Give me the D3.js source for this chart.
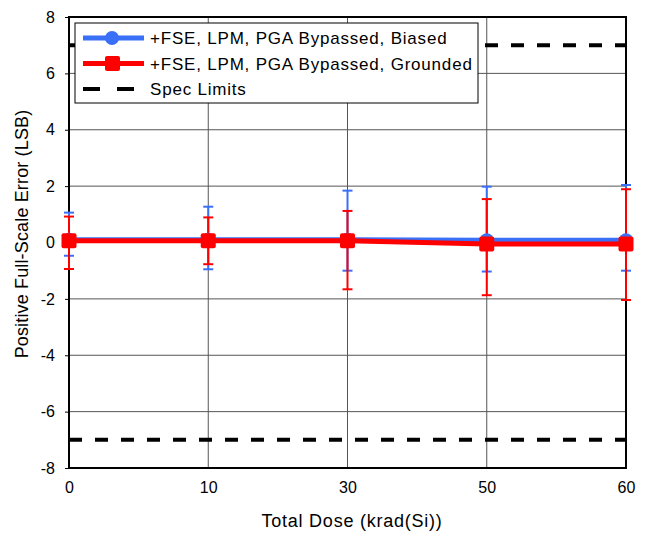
<!DOCTYPE html>
<html>
<head>
<meta charset="utf-8">
<script src="https://cdn.jsdelivr.net/npm/d3@7"></script>
<style>
  body { margin: 0; background: #fff; }
  text { font-family: "Liberation Sans", Arial, sans-serif; }
</style>
</head>
<body>
<div id="chart"></div>
<script>
// Data
const doses = ["0", "10", "30", "50", "60"];
const biasedMean = [0.1, 0.1, 0.1, 0.08, 0.08];
const biasedHigh = [1.06, 1.27, 1.84, 1.98, 2.04];
const biasedLow = [-0.47, -0.95, -1.0, -1.03, -1.0];
const groundedMean = [0.06, 0.06, 0.06, -0.05, -0.05];
const groundedHigh = [0.92, 0.89, 1.12, 1.54, 1.89];
const groundedLow = [-0.94, -0.77, -1.66, -1.87, -2.04];
const specLimits = [7, -7];
const yTicks = [-8, -6, -4, -2, 0, 2, 4, 6, 8];

const width = 652;
const height = 533;
const margin = { top: 17, right: 26, bottom: 65, left: 69 };

const svg = d3
  .select("#chart")
  .append("svg")
  .attr("width", width)
  .attr("height", height);

const x = d3
  .scalePoint()
  .domain(doses)
  .range([margin.left, width - margin.right]);

const y = d3
  .scaleLinear()
  .domain([-8, 8])
  .range([height - margin.bottom, margin.top]);

// Grid lines
svg
  .append("g")
  .selectAll("line")
  .data(yTicks)
  .enter()
  .append("line")
  .attr("x1", margin.left)
  .attr("x2", width - margin.right)
  .attr("y1", (d) => y(d))
  .attr("y2", (d) => y(d))
  .style("stroke", "#555")
  .style("stroke-width", 1);

svg
  .append("g")
  .selectAll("line")
  .data(doses)
  .enter()
  .append("line")
  .attr("x1", (d) => x(d))
  .attr("x2", (d) => x(d))
  .attr("y1", margin.top)
  .attr("y2", height - margin.bottom)
  .style("stroke", "#555")
  .style("stroke-width", 1);

// Axes (plain hyphen for negatives, like the original)
const yAxis = svg
  .append("g")
  .attr("transform", `translate(${margin.left},0)`)
  .call(
    d3.axisLeft(y)
      .tickValues(yTicks)
      .tickFormat((d) => String(d))
      .tickSize(4)
      .tickPadding(10)
  );
yAxis.select(".domain").remove();
yAxis.selectAll("text").style("font-size", "16px").style("fill", "#000");

const xAxis = svg
  .append("g")
  .attr("transform", `translate(0,${height - margin.bottom})`)
  .call(d3.axisBottom(x).tickSize(0).tickPadding(14));
xAxis.select(".domain").remove();
xAxis.selectAll("text").style("font-size", "16px").style("fill", "#000");

// Frame
svg
  .append("rect")
  .attr("x", margin.left)
  .attr("y", margin.top)
  .attr("width", width - margin.left - margin.right)
  .attr("height", height - margin.top - margin.bottom)
  .style("fill", "none")
  .style("stroke", "#000")
  .style("stroke-width", 2);

// Spec limits
svg
  .append("g")
  .selectAll("line")
  .data(specLimits)
  .enter()
  .append("line")
  .attr("x1", margin.left)
  .attr("x2", width - margin.right)
  .attr("y1", (d) => y(d))
  .attr("y2", (d) => y(d))
  .style("stroke", "#000")
  .style("stroke-width", 4)
  .style("stroke-dasharray", "13,13");

// Error bars
function drawErrors(high, low, color) {
  const g = svg.append("g");
  doses.forEach((d, i) => {
    const cx = x(d);
    g.append("line")
      .attr("x1", cx).attr("x2", cx)
      .attr("y1", y(high[i])).attr("y2", y(low[i]))
      .style("stroke", color).style("stroke-width", 2);
    [high[i], low[i]].forEach((v) => {
      g.append("line")
        .attr("x1", cx - 5).attr("x2", cx + 5)
        .attr("y1", y(v)).attr("y2", y(v))
        .style("stroke", color).style("stroke-width", 2);
    });
  });
}
drawErrors(biasedHigh, biasedLow, "#3a6ff7");
drawErrors(groundedHigh, groundedLow, "#ff0000");

const line = d3
  .line()
  .x((d, i) => x(doses[i]))
  .y((d) => y(d));

// Biased series
svg
  .append("path")
  .datum(biasedMean)
  .attr("d", line)
  .style("fill", "none")
  .style("stroke", "#3a6ff7")
  .style("stroke-width", 5);
svg
  .append("g")
  .selectAll("circle")
  .data(biasedMean)
  .enter()
  .append("circle")
  .attr("cx", (d, i) => x(doses[i]))
  .attr("cy", (d) => y(d))
  .attr("r", 7)
  .style("fill", "#3a6ff7");

// Grounded series
svg
  .append("path")
  .datum(groundedMean)
  .attr("d", line)
  .style("fill", "none")
  .style("stroke", "#ff0000")
  .style("stroke-width", 5);
svg
  .append("g")
  .selectAll("rect")
  .data(groundedMean)
  .enter()
  .append("rect")
  .attr("x", (d, i) => x(doses[i]) - 7.5)
  .attr("y", (d) => y(d) - 7.5)
  .attr("width", 15)
  .attr("height", 15)
  .attr("rx", 2)
  .style("fill", "#ff0000");

// Legend
const legend = svg.append("g").attr("transform", "translate(75,23)");
legend
  .append("rect")
  .attr("width", 403)
  .attr("height", 80)
  .style("fill", "#fff")
  .style("stroke", "#000")
  .style("stroke-width", 1);

const legendItems = [
  { label: "+FSE, LPM, PGA Bypassed, Biased", color: "#3a6ff7", marker: "circle" },
  { label: "+FSE, LPM, PGA Bypassed, Grounded", color: "#ff0000", marker: "square" },
  { label: "Spec Limits", color: "#000", marker: "dash" }
];

legendItems.forEach((item, i) => {
  const ly = 15 + i * 25.5;
  const row = legend.append("g").attr("transform", `translate(0,${ly})`);
  const l = row
    .append("line")
    .attr("x1", 8)
    .attr("x2", 69)
    .attr("y1", 0)
    .attr("y2", 0)
    .style("stroke", item.color)
    .style("stroke-width", item.marker === "dash" ? 4 : 5);
  if (item.marker === "dash") {
    l.attr("x1", 8).attr("x2", 61).style("stroke-dasharray", "17,17");
  } else if (item.marker === "circle") {
    row.append("circle").attr("cx", 37).attr("cy", 0).attr("r", 7).style("fill", item.color);
  } else {
    row.append("rect").attr("x", 30).attr("y", -7.5).attr("width", 15).attr("height", 15)
      .attr("rx", 2).style("fill", item.color);
  }
  row
    .append("text")
    .attr("x", 75)
    .attr("y", 6)
    .style("font-size", "17px")
    .style("letter-spacing", "0.8px")
    .text(item.label);
});

// Axis titles
svg
  .append("text")
  .attr("x", 352)
  .attr("y", 527)
  .attr("text-anchor", "middle")
  .style("font-size", "18px")
  .style("letter-spacing", "0.75px")
  .text("Total Dose (krad(Si))");

svg
  .append("text")
  .attr("transform", "translate(28,234) rotate(-90)")
  .attr("text-anchor", "middle")
  .style("font-size", "18px")
  .style("letter-spacing", "0.15px")
  .text("Positive Full-Scale Error (LSB)");
</script>
</body>
</html>
